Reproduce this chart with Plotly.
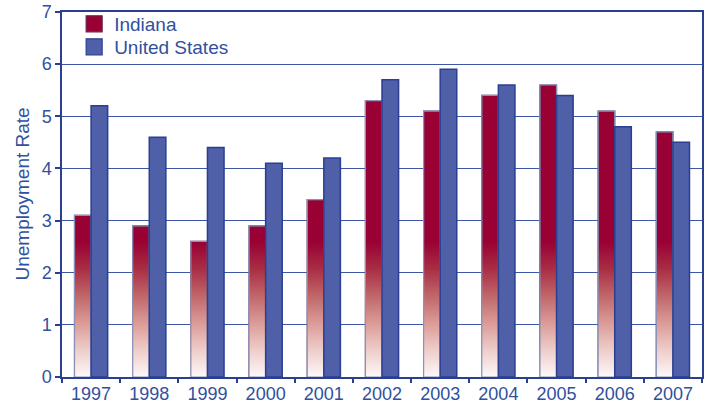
import plotly.graph_objects as go

years = ["1997", "1998", "1999", "2000", "2001", "2002", "2003", "2004", "2005", "2006", "2007"]
indiana = [3.1, 2.9, 2.6, 2.9, 3.4, 5.3, 5.1, 5.4, 5.6, 5.1, 4.7]
united_states = [5.2, 4.6, 4.4, 4.1, 4.2, 5.7, 5.9, 5.6, 5.4, 4.8, 4.5]
y_ticks = [0, 1, 2, 3, 4, 5, 6, 7]
y_title = "Unemployment Rate"

RED = "#990033"
BLUE = "#4f5fa8"
EDGE = "#2b3f91"
TEXT = "#3050a0"
GRID = "#3d57a6"
FONT = "Liberation Sans, Arial, sans-serif"

BAR_W = 0.285
GRAD_TOP = 2.6
STEP = 0.04

# gradient colour stops (fraction of GRAD_TOP -> rgb)
stops = [(0.0, (252, 248, 248)), (0.2, (238, 205, 202)), (0.4, (218, 155, 150)),
         (0.6, (192, 102, 105)), (0.8, (168, 45, 68)), (1.0, (153, 0, 51))]


def grad_color(f):
    for (f0, c0), (f1, c1) in zip(stops[:-1], stops[1:]):
        if f0 <= f <= f1:
            t = (f - f0) / (f1 - f0)
            c = [round(a + (b - a) * t) for a, b in zip(c0, c1)]
            return "rgb(%d,%d,%d)" % tuple(c)
    return RED


fig = go.Figure()

# Indiana solid bars
fig.add_trace(go.Bar(
    x=years, y=indiana, name="Indiana", offset=-BAR_W, width=BAR_W, showlegend=False,
    marker=dict(color=RED, line=dict(color="#5a3060", width=1.2)),
))

# gradient on lower part of Indiana bars: nested bars from 0, tallest first
n = int(round(GRAD_TOP / STEP))
for k in range(n, 0, -1):
    top = k * STEP
    fig.add_trace(go.Bar(
        x=years, y=[top] * len(years),
        offset=-BAR_W, width=BAR_W, showlegend=False, hoverinfo="skip",
        marker=dict(color=grad_color((k - 0.5) / n), line=dict(width=0)),
    ))

# outline over Indiana bars
fig.add_trace(go.Bar(
    x=years, y=indiana, offset=-BAR_W, width=BAR_W, showlegend=False, hoverinfo="skip",
    marker=dict(color="rgba(0,0,0,0)", line=dict(color="#8a90b8", width=1.2)),
))

fig.add_trace(go.Bar(
    x=years, y=united_states, name="United States", offset=0, width=BAR_W, showlegend=False,
    marker=dict(color=BLUE, line=dict(color=EDGE, width=1.5)),
))

# legend entries (larger square swatches)
fig.add_trace(go.Scatter(
    x=[None], y=[None], mode="markers", name="Indiana", legend="legend",
    marker=dict(symbol="square", size=16, color=RED, line=dict(color="#6a2050", width=1.2)),
))
fig.add_trace(go.Scatter(
    x=[None], y=[None], mode="markers", name="United States", legend="legend2",
    marker=dict(symbol="square", size=16, color=BLUE, line=dict(color=EDGE, width=1.2)),
))

legend_common = dict(xref="container", yref="container", xanchor="left", yanchor="top",
                     bgcolor="rgba(0,0,0,0)",
                     font=dict(size=19, color=TEXT, family=FONT), itemwidth=30,
                     itemsizing="trace")

fig.update_layout(
    width=713, height=404,
    margin=dict(l=62, r=11, t=12, b=27, autoexpand=False),
    barmode="overlay",
    plot_bgcolor="white", paper_bgcolor="white",
    font=dict(family=FONT, color=TEXT, size=18),
    showlegend=True,
    legend=dict(x=0.104, y=0.9876, **legend_common),
    legend2=dict(x=0.104, y=0.9307, **legend_common),
    xaxis=dict(
        type="category", tickson="boundaries", ticks="outside", ticklen=4,
        tickcolor=EDGE, tickwidth=1.5, showgrid=False, automargin=False,
        showline=True, linecolor=EDGE, linewidth=1.5, mirror=True,
        tickfont=dict(size=18, color=TEXT),
    ),
    yaxis=dict(
        range=[0, 7], tickvals=y_ticks, ticks="outside", ticklen=5,
        tickcolor=EDGE, tickwidth=1.5, automargin=False,
        showgrid=True, gridcolor=GRID, gridwidth=1.3,
        showline=True, linecolor=EDGE, linewidth=1.5, mirror=True,
        zeroline=False, tickfont=dict(size=18, color=TEXT),
    ),
    annotations=[dict(
        text=y_title, textangle=-90, showarrow=False,
        xref="paper", yref="paper", x=-0.0625, y=0.5,
        xanchor="center", yanchor="middle",
        font=dict(size=19, color=TEXT, family=FONT),
    )],
)

fig.write_html("out.html", config={"displayModeBar": False},
               post_script="document.body.style.margin='0';")
